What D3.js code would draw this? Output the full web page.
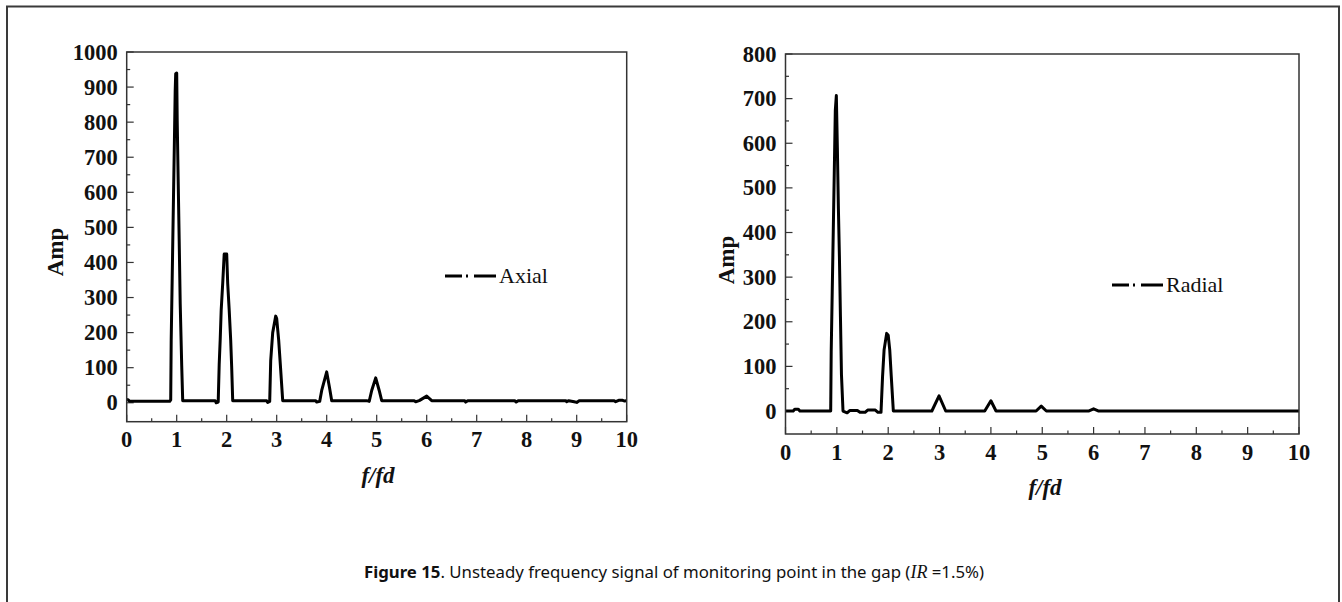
<!DOCTYPE html>
<html>

<head>
    <script src="https://d3js.org/d3.v7.min.js"></script>
    <title>Figure 15</title>
    <style>
        body { margin: 0; background: #fff; }
        svg { display: block; }
    </style>
</head>

<body>
    <svg></svg>
    <script>
        // frequency ratio f/fd and amplitude
        const axialF = [0, 0.03, 0.06, 0.5, 0.86, 0.88, 0.89, 0.91, 0.93, 0.95, 0.97, 0.98, 1.0, 1.01, 1.03, 1.05, 1.07, 1.1, 1.12,
            1.5, 1.77, 1.79, 1.83, 1.85, 1.87, 1.89, 1.92, 1.95, 2.0, 2.02, 2.05, 2.08, 2.1, 2.12,
            2.8, 2.82, 2.86, 2.88, 2.92, 2.98, 3.0, 3.04, 3.08, 3.12,
            3.78, 3.8, 3.86, 3.9, 4.0, 4.06, 4.1, 4.8, 4.85, 4.9, 4.98, 5.05, 5.1,
            5.75, 5.78, 5.85, 6.0, 6.1, 6.76, 6.78, 6.82, 7.76, 7.79, 7.83, 8.78, 8.8, 8.84, 8.95, 9.0, 9.05,
            9.75, 9.78, 9.84, 9.92, 9.95, 10];
        const axialAmp = [10, 8, 4, 4, 4, 8, 180, 355, 535, 710, 890, 938, 940, 805, 630, 460, 283, 107, 6,
            6, 6, 0, 2, 110, 180, 265, 340, 424, 424, 340, 264, 178, 100, 6,
            6, 1, 4, 120, 200, 247, 240, 178, 93, 6,
            6, 2, 4, 35, 88, 40, 6, 6, 4, 35, 71, 35, 6,
            6, 3, 6, 19, 6, 6, 2, 6, 6, 2, 6, 6, 3, 6, 3, 1, 6,
            6, 3, 7, 7, 5, 6];

        const radialF = [0, 0.15, 0.18, 0.25, 0.28, 0.88, 0.89, 0.91, 0.93, 0.95, 0.97, 0.99, 1.01, 1.03, 1.05, 1.07, 1.09, 1.12,
            1.2, 1.25, 1.4, 1.45, 1.55, 1.6, 1.75, 1.8, 1.86, 1.89, 1.92, 1.97, 2.0, 2.03, 2.06, 2.1,
            2.85, 2.99, 3.12, 3.88, 4.0, 4.1, 4.88, 4.98, 5.08, 5.9, 6.0, 6.1, 10];
        const radialAmp = [0, 0, 4, 4, 0, 0, 133, 267, 401, 535, 674, 707, 590, 454, 345, 211, 81, 0,
            -4, 1, 1, -3, -3, 2, 2, -3, -3, 77, 137, 174, 170, 137, 77, 0,
            0, 34, 0, 0, 23, 0, 0, 11, 0, 0, 5, 0, 0];

        const xTicks = [0, 1, 2, 3, 4, 5, 6, 7, 8, 9, 10];
        const axialYTicks = [0, 100, 200, 300, 400, 500, 600, 700, 800, 900, 1000];
        const radialYTicks = [0, 100, 200, 300, 400, 500, 600, 700, 800];

        const width = 1342;
        const height = 602;
        const svg = d3.select("svg")
            .attr("width", width)
            .attr("height", height);

        // outer frame of the figure (open at the bottom)
        svg.append("path")
            .attr("d", "M7,602 V6.5 H1339 V602")
            .attr("fill", "none")
            .attr("stroke", "#3a3a3a")
            .attr("stroke-width", 2);

        const tickFont = "'Liberation Serif', 'Times New Roman', serif";

        function drawPanel(p) {
            const x = d3.scaleLinear().domain([0, 10]).range([p.left, p.right]);
            const y = d3.scaleLinear().domain(p.yDomain).range([p.bottom, p.top]);
            const g = svg.append("g");

            // minor ticks (inside)
            const xMinor = d3.range(0.5, 10, 1);
            g.selectAll(".xminor").data(xMinor).enter().append("line")
                .attr("x1", d => x(d)).attr("x2", d => x(d))
                .attr("y1", p.bottom).attr("y2", p.bottom - 3.5)
                .attr("stroke", "#333").attr("stroke-width", 1.2);
            const yMinor = p.yTicks.slice(0, -1).map(d => d + 50);
            g.selectAll(".yminor").data(yMinor).enter().append("line")
                .attr("x1", p.left).attr("x2", p.left + 3.5)
                .attr("y1", d => y(d)).attr("y2", d => y(d))
                .attr("stroke", "#333").attr("stroke-width", 1.2);

            // major ticks
            g.selectAll(".xmajor").data(xTicks).enter().append("line")
                .attr("x1", d => x(d)).attr("x2", d => x(d))
                .attr("y1", p.bottom).attr("y2", p.bottom - 7)
                .attr("stroke", "#333").attr("stroke-width", 1.2);
            g.selectAll(".ymajor").data(p.yTicks).enter().append("line")
                .attr("x1", p.left).attr("x2", p.left + 7)
                .attr("y1", d => y(d)).attr("y2", d => y(d))
                .attr("stroke", "#333").attr("stroke-width", 1.2);

            // tick labels
            g.selectAll(".xlab").data(xTicks).enter().append("text")
                .attr("x", d => x(d))
                .attr("y", p.bottom + p.xLabOffset)
                .attr("text-anchor", "middle")
                .style("font-family", tickFont)
                .style("font-weight", "bold")
                .style("font-size", "22.5px")
                .attr("fill", "#111")
                .text(d => d);
            g.selectAll(".ylab").data(p.yTicks).enter().append("text")
                .attr("x", p.left - 9)
                .attr("y", d => y(d) + 7.5)
                .attr("text-anchor", "end")
                .style("font-family", tickFont)
                .style("font-weight", "bold")
                .style("font-size", "22.5px")
                .attr("fill", "#111")
                .text(d => d);

            // data line
            const line = d3.line()
                .x(d => x(d[0]))
                .y(d => y(d[1]));
            g.append("path")
                .datum(d3.zip(p.f, p.amp))
                .attr("d", line)
                .attr("fill", "none")
                .attr("stroke", "#000")
                .attr("stroke-width", 3)
                .attr("stroke-linejoin", "round");

            // plot frame
            g.append("rect")
                .attr("x", p.left).attr("y", p.top)
                .attr("width", p.right - p.left)
                .attr("height", p.bottom - p.top)
                .attr("fill", "none")
                .attr("stroke", "#333")
                .attr("stroke-width", 1.5);

            // axis titles
            g.append("text")
                .attr("transform", `translate(${p.ampX},${p.ampY}) rotate(-90)`)
                .attr("text-anchor", "middle")
                .style("font-family", tickFont)
                .style("font-weight", "bold")
                .style("font-size", "23px")
                .attr("fill", "#111")
                .text("Amp");
            g.append("text")
                .attr("x", p.fX).attr("y", p.fY)
                .attr("text-anchor", "middle")
                .style("font-family", tickFont)
                .style("font-weight", "bold")
                .style("font-style", "italic")
                .style("font-size", "23px")
                .attr("fill", "#111")
                .text("f/fd");

            // legend
            g.append("line")
                .attr("x1", p.legX).attr("x2", p.legX + 51)
                .attr("y1", p.legY).attr("y2", p.legY)
                .attr("stroke", "#000")
                .attr("stroke-width", 3)
                .attr("stroke-dasharray", "17,4,2,6,22");
            g.append("text")
                .attr("x", p.legX + 54).attr("y", p.legY + 7)
                .style("font-family", tickFont)
                .style("font-size", "22px")
                .attr("fill", "#111")
                .text(p.name);
        }

        drawPanel({
            name: "Axial", f: axialF, amp: axialAmp,
            left: 126.7, right: 626.7, top: 52, bottom: 421.7,
            yDomain: [-54, 1000], yTicks: axialYTicks, xLabOffset: 25,
            ampX: 63, ampY: 252, fX: 378, fY: 483,
            legX: 445, legY: 276
        });
        drawPanel({
            name: "Radial", f: radialF, amp: radialAmp,
            left: 785.5, right: 1299, top: 54, bottom: 434,
            yDomain: [-51.5, 800], yTicks: radialYTicks, xLabOffset: 26,
            ampX: 734, ampY: 260, fX: 1045, fY: 495,
            legX: 1112, legY: 285
        });

        // caption
        const cap = svg.append("text")
            .attr("x", 674).attr("y", 578)
            .attr("text-anchor", "middle")
            .style("font-family", "'Noto Sans', sans-serif")
            .style("font-size", "16.8px")
            .attr("fill", "#111");
        cap.append("tspan").style("font-weight", "bold").text("Figure 15");
        cap.append("tspan").text(". Unsteady frequency signal of monitoring point in the gap (");
        cap.append("tspan").style("font-family", tickFont).style("font-style", "italic").style("font-size", "18px").text("IR");
        cap.append("tspan").text(" =1.5%)");
    </script>
</body>

</html>
